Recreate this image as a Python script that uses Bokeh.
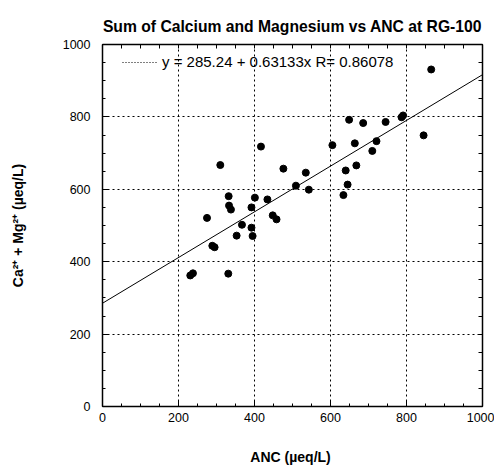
from bokeh.plotting import figure
from bokeh.models import (LinearAxis, Range1d, SingleIntervalTicker, FixedTicker,
                          Legend, LegendItem)
from bokeh.embed import file_html
from bokeh.resources import INLINE

# ---- data ----
anc = [231, 238, 331, 289, 295, 353, 395, 392, 367, 275,
       448, 458, 333, 338, 392, 332, 401, 434, 310, 417,
       476, 509, 535, 543, 605, 634, 645, 640, 668, 664,
       710, 721, 649, 686, 745, 787, 791, 845, 865]
ca_mg = [362, 368, 367, 444, 440, 472, 471, 494, 502, 521,
         528, 517, 555, 544, 550, 581, 577, 572, 667, 718,
         657, 610, 646, 599, 722, 584, 613, 652, 666, 727,
         706, 733, 792, 783, 786, 799, 804, 749, 931]

intercept = 285.24
slope = 0.63133
r_value = 0.86078
fit_x = [0, 1000]

frame_ticks = list(range(0, 1001, 50))

title_text = "Sum of Calcium and Magnesium vs ANC at RG-100"
x_label = "ANC  (\u00b5eq/L)"
y_label = "Ca\u00b2\u207a + Mg\u00b2\u207a (\u00b5eq/L)"

FONT = "Liberation Sans"

p = figure(frame_width=380, frame_height=362,
           x_range=Range1d(0, 1000), y_range=Range1d(0, 1000),
           output_backend="svg", toolbar_location=None,
           min_border_left=102, min_border_right=12,
           min_border_top=44, min_border_bottom=58,
           title=title_text)

p.title.text_font = FONT
p.title.text_font_size = "15.7px"
p.title.text_font_style = "bold"
p.title.align = "center"
p.title.text_color = "black"
p.title.standoff = 20

p.outline_line_color = "black"
p.outline_line_width = 1
p.background_fill_color = "white"
p.border_fill_color = "white"


def base_axis(ax):
    ax.axis_line_color = "black"
    ax.axis_line_width = 1.5
    ax.major_tick_out = 0
    ax.minor_tick_out = 0
    ax.major_tick_line_color = "black"
    ax.minor_tick_line_color = "black"


def style_axis(ax):
    base_axis(ax)
    ax.ticker = SingleIntervalTicker(interval=200, num_minor_ticks=4)
    ax.major_tick_in = 6
    ax.minor_tick_in = 3
    ax.major_label_text_font = FONT
    ax.major_label_text_color = "black"
    ax.major_label_text_font_size = "12.5px"
    ax.axis_label_text_font = FONT
    ax.axis_label_text_font_size = "14px"
    ax.axis_label_text_font_style = "bold"
    ax.axis_label_text_color = "black"


for ax in p.xaxis:
    style_axis(ax)
    ax.major_label_standoff = 6
    ax.axis_label = x_label
    ax.axis_label_standoff = 24
for ax in p.yaxis:
    style_axis(ax)
    ax.major_label_standoff = 12
    ax.axis_label = y_label
    ax.axis_label_standoff = 34

# frame ticks on top and right (no labels)
for side in ("above", "right"):
    ax = LinearAxis(ticker=FixedTicker(ticks=[], minor_ticks=frame_ticks))
    base_axis(ax)
    ax.major_tick_in = 0
    ax.minor_tick_in = 4
    ax.major_label_standoff = 0
    p.add_layout(ax, side)

for g in (p.xgrid, p.ygrid):
    g.ticker = SingleIntervalTicker(interval=200)
    g.grid_line_color = "black"
    g.grid_line_dash = "2 3"
    g.grid_line_width = 1
    g.level = "image"

fit_y = [intercept + slope * x for x in fit_x]
p.line(fit_x, fit_y, line_color="black", line_width=1)

p.scatter(anc, ca_mg, size=7, marker="circle", fill_color="black", line_color="black")

sample = p.line([float("nan")], [float("nan")], line_color="black",
                line_width=1, line_dash="1 2")
legend = Legend(items=[LegendItem(label=f"y = {intercept} + {slope}x R= {r_value}",
                                  renderers=[sample])],
                location=(20, 336), margin=0, padding=0,
                label_height=14, glyph_height=14, glyph_width=35,
                label_standoff=5, spacing=0,
                background_fill_alpha=0, border_line_color=None,
                label_text_font=FONT, label_text_font_size="15px",
                label_text_color="black")
p.add_layout(legend)

open("out.html", "w").write(file_html(p, INLINE))
